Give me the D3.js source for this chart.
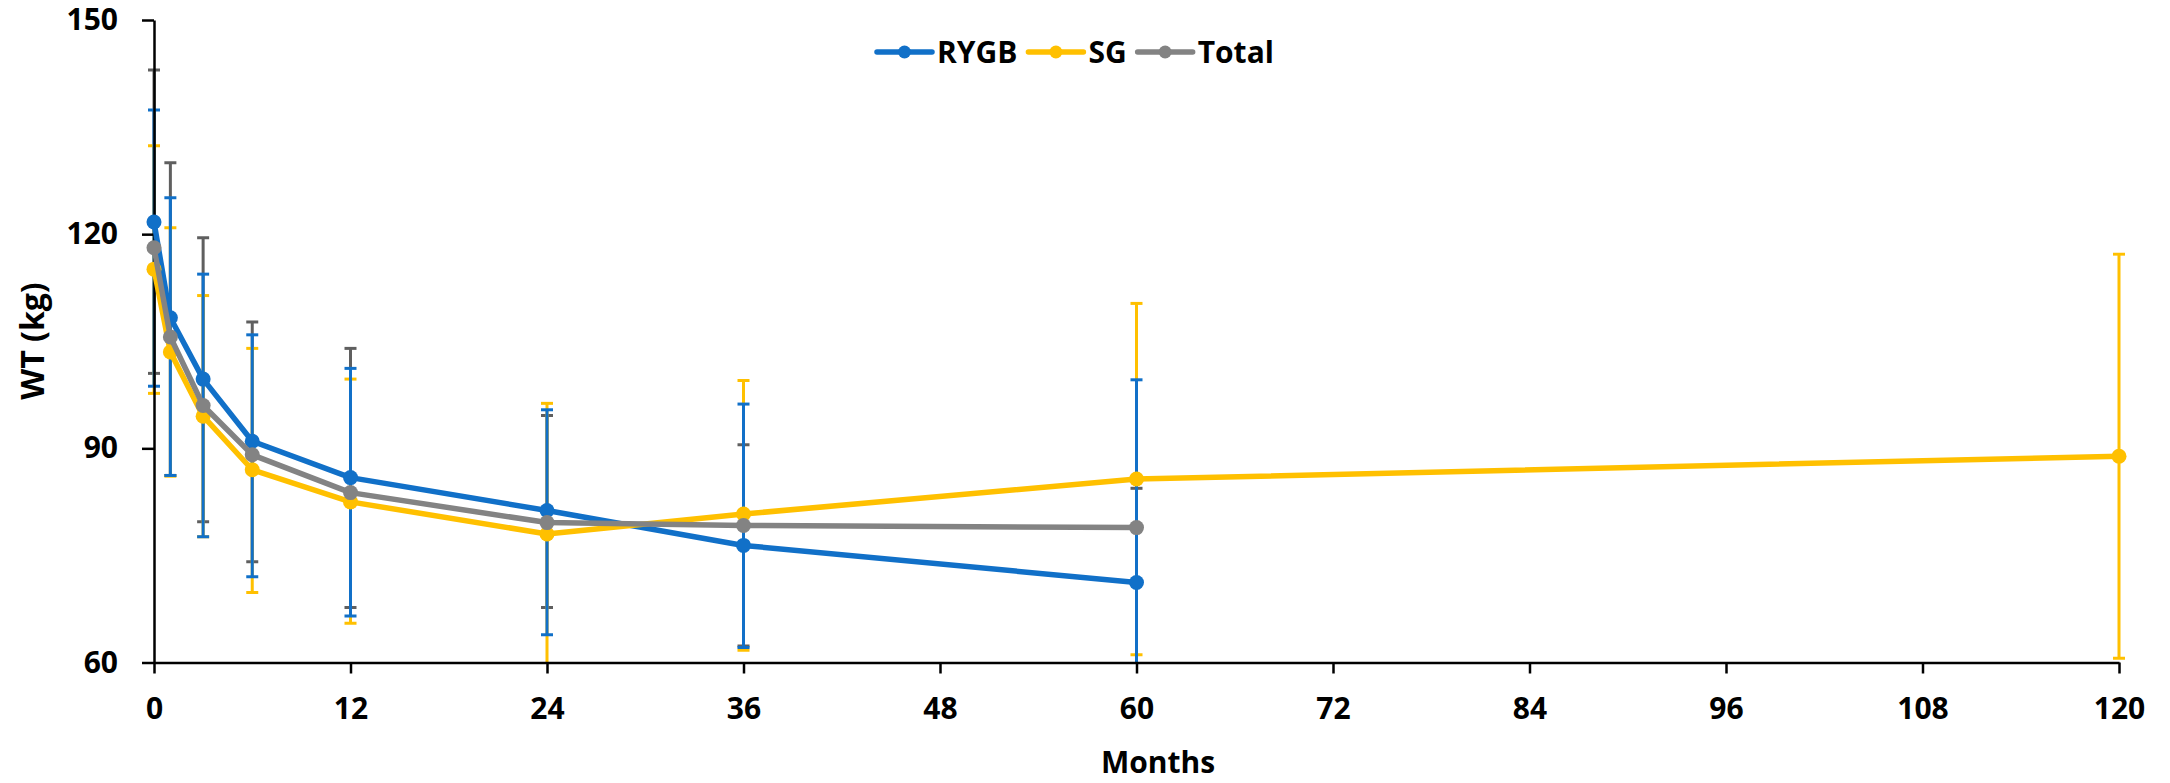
<!DOCTYPE html>
<html>
<head>
<meta charset="utf-8">
<script src="https://cdn.jsdelivr.net/npm/d3@7"></script>
<style>
  html, body { margin: 0; padding: 0; background: #ffffff; }
  svg { display: block; font-family: "Open Sans", "Noto Sans", sans-serif; }
</style>
</head>
<body>
<svg id="chart" width="2170" height="783"></svg>
<script>
// Follow-up months
const months = [0, 1, 3, 6, 12, 24, 36, 60, 120];

// Mean weight (kg) per group
const rygbMean  = [121.7, 108.3, 99.7, 91.0, 85.9, 81.3, 76.4, 71.2];
const sgMean    = [115.1, 103.5, 94.5, 87.0, 82.5, 78.0, 80.8, 85.7, 88.9];
const totalMean = [118.1, 105.6, 96.0, 89.1, 83.8, 79.6, 79.2, 78.9];

// Error bar upper / lower ends (kg)
const rygbHigh  = [137.4, 125.1, 114.4, 105.9, 101.2, 95.4, 96.2, 99.6];
const rygbLow   = [98.7, 86.2, 77.6, 72.0, 66.5, 63.9, 62.1, 43.0];
const sgHigh    = [132.4, 120.9, 111.4, 104.0, 99.7, 96.3, 99.5, 110.3, 117.2];
const sgLow     = [97.7, 86.1, 77.6, 69.8, 65.5, 59.7, 61.7, 61.1, 60.6];
const totalHigh = [143.0, 130.0, 119.5, 107.7, 104.0, 94.6, 90.5, 84.4];
const totalLow  = [100.5, 86.2, 79.7, 74.1, 67.7, 67.7, 62.3, 55.0];

// Axis ticks
const xTicks = [0, 12, 24, 36, 48, 60, 72, 84, 96, 108, 120];
const yTicks = [60, 90, 120, 150];

const seriesNames = ["RYGB", "SG", "Total"];

const svg = d3.select("#chart");
const plotLeft = 154, plotTop = 20, plotRight = 2119, plotBottom = 662.5;

const x = d3.scaleLinear().domain([0, 120]).range([plotLeft, plotRight]);
const y = d3.scaleLinear().domain([60, 150]).range([plotBottom, plotTop]);

const colors = { RYGB: "#1170c8", SG: "#ffc000", Total: "#838383" };
const barColors = { RYGB: "#1170c8", SG: "#ffc000", Total: "#5f5f5f" };

function build(name, mean, high, low) {
  return {
    name,
    points: mean.map((m, i) => ({ month: months[i], mean: m, high: high[i], low: low[i] }))
  };
}
const series = [
  build("RYGB", rygbMean, rygbHigh, rygbLow),
  build("SG", sgMean, sgHigh, sgLow),
  build("Total", totalMean, totalHigh, totalLow)
];

svg.append("defs").append("clipPath").attr("id", "plot-clip")
  .append("rect")
  .attr("x", plotLeft - 20).attr("y", plotTop)
  .attr("width", plotRight - plotLeft + 40).attr("height", plotBottom - plotTop);

// Error bars (Total underneath, RYGB on top)
const barsLayer = svg.append("g").attr("clip-path", "url(#plot-clip)");
const capHalf = 6;
["Total", "SG", "RYGB"].forEach(name => {
  const s = series.find(d => d.name === name);
  const g = barsLayer.append("g").attr("stroke", barColors[name]).attr("stroke-width", 3);
  s.points.forEach(p => {
    const cx = x(p.month);
    g.append("line").attr("x1", cx).attr("x2", cx).attr("y1", y(p.high)).attr("y2", y(p.low));
    g.append("line").attr("x1", cx - capHalf).attr("x2", cx + capHalf).attr("y1", y(p.high)).attr("y2", y(p.high));
    g.append("line").attr("x1", cx - capHalf).attr("x2", cx + capHalf).attr("y1", y(p.low)).attr("y2", y(p.low));
  });
});

// Axes
const yAxis = d3.axisLeft(y).tickValues(yTicks).tickSize(12).tickSizeOuter(0).tickPadding(24);
const xAxis = d3.axisBottom(x).tickValues(xTicks).tickSize(11).tickSizeOuter(0).tickPadding(24);

const gy = svg.append("g").attr("transform", `translate(${plotLeft},0)`).call(yAxis);
const gx = svg.append("g").attr("transform", `translate(0,${plotBottom})`).call(xAxis);
[gx, gy].forEach(g => {
  g.select(".domain").attr("stroke", "#000").attr("stroke-width", 2.5);
  g.selectAll(".tick line").attr("stroke", "#000").attr("stroke-width", 2.5);
  g.selectAll(".tick text").attr("fill", "#000").attr("font-size", 30).attr("font-weight", 700)
    .attr("font-family", "'Open Sans', 'Noto Sans', sans-serif");
});

// Lines and markers
const line = d3.line().x(d => x(d.month)).y(d => y(d.mean));
const linesLayer = svg.append("g");
series.forEach(s => {
  linesLayer.append("path")
    .datum(s.points)
    .attr("fill", "none")
    .attr("stroke", colors[s.name])
    .attr("stroke-width", 5.5)
    .attr("stroke-linejoin", "round")
    .attr("d", line);
  linesLayer.selectAll(null)
    .data(s.points)
    .enter().append("circle")
    .attr("cx", d => x(d.month))
    .attr("cy", d => y(d.mean))
    .attr("r", 7.5)
    .attr("fill", colors[s.name]);
});

// Axis titles
svg.append("text")
  .attr("x", 1158).attr("y", 773)
  .attr("text-anchor", "middle")
  .attr("font-size", 30).attr("font-weight", 700)
  .text("Months");

svg.append("text")
  .attr("transform", "translate(44,341) rotate(-90)")
  .attr("text-anchor", "middle")
  .attr("font-size", 32).attr("font-weight", 700)
  .text("WT (kg)");

// Legend
const legend = svg.append("g").attr("transform", "translate(877,52)");
let offset = 0;
seriesNames.forEach(name => {
  const item = legend.append("g").attr("transform", `translate(${offset},0)`);
  item.append("line")
    .attr("x1", 0).attr("x2", 55).attr("y1", 0).attr("y2", 0)
    .attr("stroke", colors[name]).attr("stroke-width", 5.5).attr("stroke-linecap", "round");
  item.append("circle").attr("cx", 27.5).attr("cy", 0).attr("r", 6.5).attr("fill", colors[name]);
  const t = item.append("text")
    .attr("x", 60).attr("y", 0).attr("dy", "0.36em")
    .attr("font-size", 30).attr("font-weight", 700)
    .text(name);
  offset += 60 + t.node().getComputedTextLength() + 11;
});
</script>
</body>
</html>
